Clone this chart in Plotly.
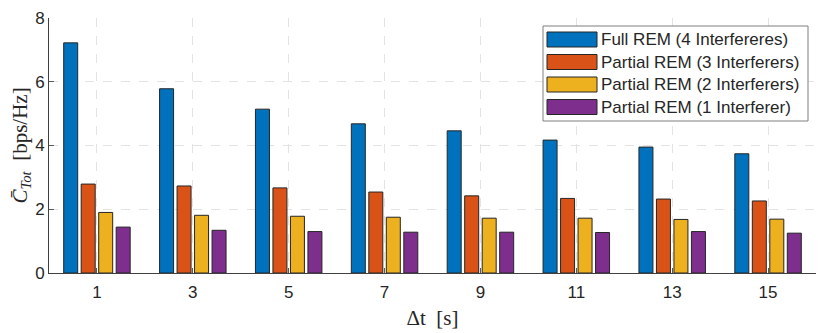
import plotly.graph_objects as go

delta_t = [1, 3, 5, 7, 9, 11, 13, 15]

full_rem_4 = [7.22, 5.78, 5.14, 4.68, 4.46, 4.17, 3.95, 3.74]
partial_rem_3 = [2.79, 2.73, 2.67, 2.54, 2.42, 2.34, 2.32, 2.26]
partial_rem_2 = [1.90, 1.81, 1.78, 1.75, 1.72, 1.72, 1.68, 1.69]
partial_rem_1 = [1.44, 1.34, 1.30, 1.28, 1.28, 1.27, 1.30, 1.25]

names = ["Full REM (4 Interfereres)", "Partial REM (3 Interferers)",
         "Partial REM (2 Interferers)", "Partial REM (1 Interferer)"]
colors = ["#0072BD", "#D95319", "#EDB120", "#7E2F8E"]
series = [full_rem_4, partial_rem_3, partial_rem_2, partial_rem_1]

fig = go.Figure()
for name, col, vals in zip(names, colors, series):
    fig.add_trace(go.Bar(x=delta_t, y=vals, name=name, showlegend=False,
                         marker=dict(color=col, line=dict(color="#262626", width=1))))

sans = "'Liberation Sans', Arial, sans-serif"
tickfont = dict(family=sans, size=17, color="#262626")
serif = dict(family="'Liberation Serif', 'Times New Roman', serif", size=21, color="#262626")

# page has an 8px body margin, so shrink figure to fit the window
W, H = 822, 325
L, R, T, B = 41, 14, 10, 60
pw, ph = W - L - R, H - T - B

def px(x):  # plot-area pixel -> paper
    return x / pw

def py(y):
    return 1 - y / ph

# legend drawn by hand (MATLAB style: wide swatches, tight rows)
lg_x0, lg_x1, lg_y0, lg_y1 = 494, 759, 8, 103
fig.add_shape(type="rect", xref="paper", yref="paper", layer="above",
              x0=px(lg_x0), x1=px(lg_x1), y0=py(lg_y1), y1=py(lg_y0),
              fillcolor="white", line=dict(color="#7f7f7f", width=1))
for i, (name, col) in enumerate(zip(names, colors)):
    cy = 21.5 + 22.5 * i
    fig.add_shape(type="rect", xref="paper", yref="paper", layer="above",
                  x0=px(498), x1=px(548), y0=py(cy + 7.5), y1=py(cy - 7.5),
                  fillcolor=col, line=dict(color="#262626", width=1))
    fig.add_annotation(xref="paper", yref="paper", x=px(550), y=py(cy),
                       xanchor="left", yanchor="middle", showarrow=False,
                       text=name, font=dict(family=sans, size=17, color="#262626"))

fig.update_layout(
    width=W, height=H,
    margin=dict(l=L, r=R, t=T, b=B),
    paper_bgcolor="white", plot_bgcolor="white",
    barmode="group", bargap=0.27, bargroupgap=0.2,
    showlegend=False,
    xaxis=dict(range=[0, 16], tickvals=delta_t, ticks="inside", ticklen=5,
               tickcolor="#5a5a5a", tickfont=tickfont, automargin=False,
               ticklabelstandoff=4,
               showline=True, linecolor="#404040", linewidth=1,
               showgrid=True, gridcolor="#e3e3e3", griddash="dash",
               zeroline=False,
               title=dict(text="Δt  [s]", font=serif, standoff=8)),
    yaxis=dict(range=[0, 8], tickvals=[0, 2, 4, 6, 8], ticks="inside", ticklen=5,
               tickcolor="#5a5a5a", tickfont=tickfont, automargin=False,
               ticklabeloverflow="allow",
               showline=True, linecolor="#404040", linewidth=1,
               showgrid=True, gridcolor="#e3e3e3", griddash="dash",
               zeroline=False,
               title=dict(text="<i>C̄</i><sub><i>Tot</i></sub>  [bps/Hz]", font=serif, standoff=4)),
    xaxis2=dict(overlaying="x", side="top", range=[0, 16], tickvals=delta_t,
                ticks="inside", ticklen=5, tickcolor="#5a5a5a", automargin=False,
                showticklabels=False, showgrid=False, zeroline=False, showline=False),
    yaxis2=dict(overlaying="y", side="right", range=[0, 8], tickvals=[0, 2, 4, 6, 8],
                ticks="inside", ticklen=5, tickcolor="#5a5a5a", automargin=False,
                showticklabels=False, showgrid=False, zeroline=False, showline=False),
)

fig.write_html("out.html")
